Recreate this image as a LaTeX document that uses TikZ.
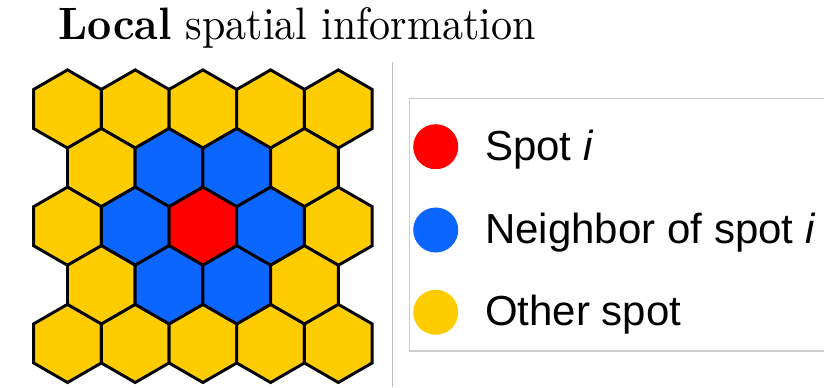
\documentclass[tikz,border=0pt]{standalone}
\usepackage{fontspec}
\usepackage{graphicx}
\newfontfamily\legendfont{Liberation Sans}
\definecolor{spotred}{RGB}{255,0,0}
\definecolor{spotblue}{RGB}{10,102,255}
\definecolor{spotyellow}{RGB}{255,204,0}
\definecolor{sepgray}{RGB}{190,190,190}
\definecolor{boxgray}{RGB}{205,205,205}
\newcommand{\hexR}{39.1}
\newcommand{\hexcell}[3]{%
  \filldraw[hexstyle, fill=#3] (#1,#2) +(90:\hexR) -- +(150:\hexR) -- +(210:\hexR)
    -- +(270:\hexR) -- +(330:\hexR) -- +(30:\hexR) -- cycle;}
\tikzset{
  hexstyle/.style={draw=black, line width=2.2pt, line join=miter},
  legenddot/.style={circle, minimum size=33.75pt, inner sep=0pt, draw=none},
  legendtext/.style={anchor=base west, inner sep=0pt, font=\legendfont\fontsize{31.5}{36}\selectfont},
}
\begin{document}
\begin{tikzpicture}[x=0.75pt, y=-0.75pt]
\useasboundingbox (0,0) rectangle (824,387);
\fill[white] (0,0) rectangle (824,387);
% title
\node[anchor=base west, inner sep=0pt] (title) at (58.3,39.5)
  {\resizebox{357.75pt}{24pt}{\textbf{Local} spatial information}};
% hex grid
\foreach \k in {0,...,4} {
  \hexcell{67.5+67.7*\k}{109}{spotyellow}
  \hexcell{67.5+67.7*\k}{343.4}{spotyellow}
}
\hexcell{101.35}{167.6}{spotyellow}
\hexcell{169.05}{167.6}{spotblue}
\hexcell{236.75}{167.6}{spotblue}
\hexcell{304.45}{167.6}{spotyellow}
\hexcell{67.5}{226.2}{spotyellow}
\hexcell{135.2}{226.2}{spotblue}
\hexcell{202.9}{226.2}{spotred}
\hexcell{270.6}{226.2}{spotblue}
\hexcell{338.3}{226.2}{spotyellow}
\hexcell{101.35}{284.8}{spotyellow}
\hexcell{169.05}{284.8}{spotblue}
\hexcell{236.75}{284.8}{spotblue}
\hexcell{304.45}{284.8}{spotyellow}
% separator
\coordinate (septop) at (392.7,62.3);
\coordinate (sepbot) at (392.7,387);
\draw[sepgray, line width=0.9pt] (septop) -- (sepbot);
% legend box
\coordinate (boxtl) at (409.3,98.5);
\coordinate (boxbr) at (830,351);
\draw[boxgray, line width=0.9pt] (boxtl) rectangle (boxbr);
% legend entries
\node[legenddot, fill=spotred] (dotred) at (435.7,146.7) {};
\node[legenddot, fill=spotblue] (dotblue) at (435.7,230) {};
\node[legenddot, fill=spotyellow] (dotyellow) at (435.7,312.3) {};
\node[legendtext] (txtred) at (485,160) {Spot \textit{i}};
\node[legendtext] (txtblue) at (485,243) {Neighbor of spot \textit{i}};
\node[legendtext] (txtyellow) at (485,325) {Other spot};
\end{tikzpicture}
\end{document}
